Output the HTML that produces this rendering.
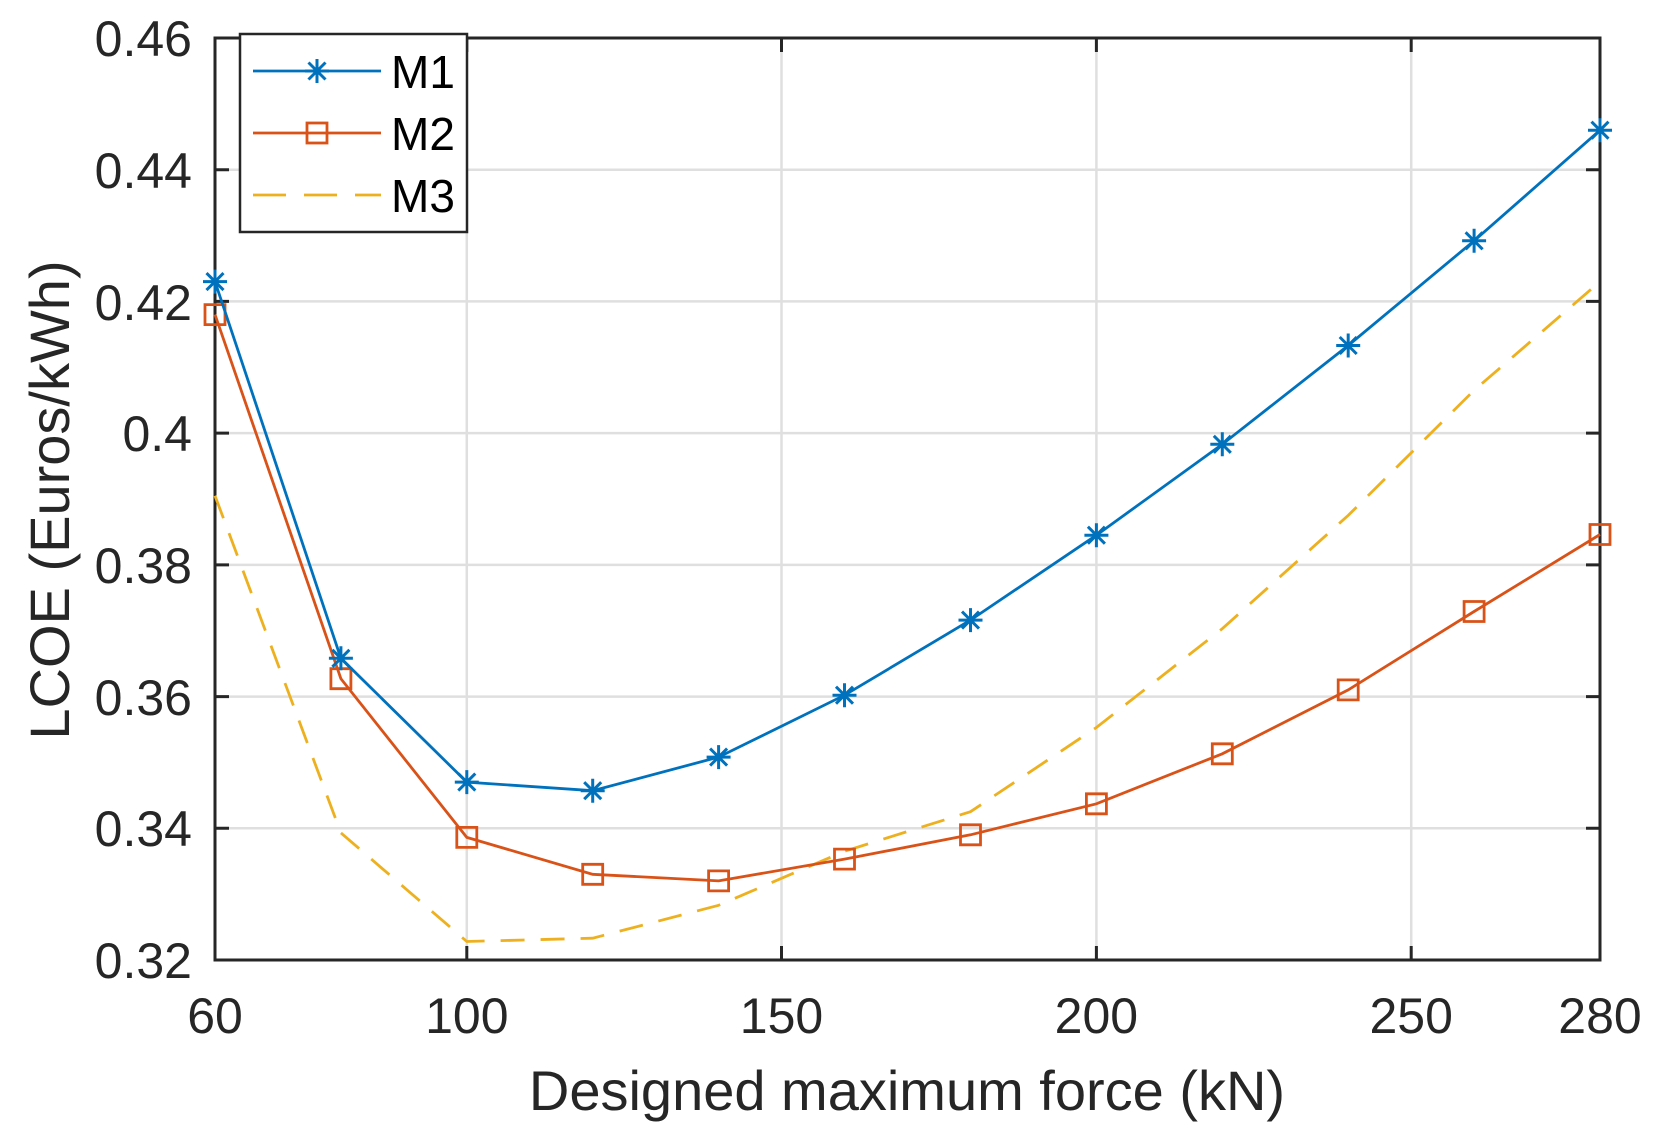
<!DOCTYPE html>
<html><head><meta charset="utf-8"><style>body{margin:0;background:#fff}svg{display:block}</style></head><body>
<svg width="1663" height="1135" viewBox="0 0 1663 1135" xmlns="http://www.w3.org/2000/svg" font-family="Liberation Sans, sans-serif">
<rect width="1663" height="1135" fill="#fff"/>
<g stroke="#dfdfdf" stroke-width="2.5">
<line x1="466.8" y1="38" x2="466.8" y2="960"/><line x1="781.5" y1="38" x2="781.5" y2="960"/><line x1="1096.4" y1="38" x2="1096.4" y2="960"/><line x1="1411.2" y1="38" x2="1411.2" y2="960"/>
<line x1="215" y1="169.7" x2="1600" y2="169.7"/><line x1="215" y1="301.4" x2="1600" y2="301.4"/><line x1="215" y1="433.1" x2="1600" y2="433.1"/><line x1="215" y1="564.9" x2="1600" y2="564.9"/><line x1="215" y1="696.6" x2="1600" y2="696.6"/><line x1="215" y1="828.3" x2="1600" y2="828.3"/>
</g>
<g stroke="#262626" stroke-width="3">
<rect x="215" y="38" width="1385" height="922" fill="none"/>
<path d="M466.8 960v-14M781.5 960v-14M1096.4 960v-14M1411.2 960v-14M466.8 38v14M781.5 38v14M1096.4 38v14M1411.2 38v14M215 169.7h14M215 301.4h14M215 433.1h14M215 564.9h14M215 696.6h14M215 828.3h14M1600 169.7h-14M1600 301.4h-14M1600 433.1h-14M1600 564.9h-14M1600 696.6h-14M1600 828.3h-14"/>
</g>
<g fill="#262626" font-size="50" text-anchor="end">
<text x="192" y="56">0.46</text><text x="192" y="188">0.44</text><text x="192" y="320">0.42</text><text x="192" y="451">0.4</text><text x="192" y="583">0.38</text><text x="192" y="715">0.36</text><text x="192" y="846">0.34</text><text x="192" y="978">0.32</text>
</g>
<g fill="#262626" font-size="50" text-anchor="middle">
<text x="215" y="1033">60</text><text x="466.8" y="1033">100</text><text x="781.5" y="1033">150</text><text x="1096.4" y="1033">200</text><text x="1411.2" y="1033">250</text><text x="1600" y="1033">280</text>
<text x="907" y="1110" font-size="56">Designed maximum force (kN)</text>
<text transform="translate(69,500) rotate(-90)" font-size="56">LCOE (Euros/kWh)</text>
</g>
<polyline fill="none" stroke="#EDB120" stroke-width="2.8" stroke-dasharray="24,16" points="215,495.7 340.9,832.9 466.8,941.5 592.7,938.2 718.6,905.3 844.5,851.3 970.5,811.7 1096.4,727.5 1222.3,628.7 1348.2,515.4 1474.1,390.3 1600,281.6"/>
<g fill="none" stroke="#D95319" stroke-width="2.8">
<polyline points="215,314.6 340.9,678.7 466.8,837.4 592.7,874.3 718.6,880.9 844.5,859.1 970.5,834.8 1096.4,803.8 1222.3,753.8 1348.2,689.9 1474.1,611.5 1600,534.5"/>
<path d="M205,304.6h20v20h-20zM330.9,668.7h20v20h-20zM456.8,827.4h20v20h-20zM582.7,864.3h20v20h-20zM708.6,870.9h20v20h-20zM834.5,849.1h20v20h-20zM960.5,824.8h20v20h-20zM1086.4,793.8h20v20h-20zM1212.3,743.8h20v20h-20zM1338.2,679.9h20v20h-20zM1464.1,601.5h20v20h-20zM1590,524.5h20v20h-20z"/>
</g>
<g fill="none" stroke="#0072BD" stroke-width="2.8">
<polyline points="215,281.6 340.9,658.3 466.8,782.1 592.7,790.7 718.6,757.1 844.5,695.2 970.5,620.1 1096.4,535.2 1222.3,444.3 1348.2,345.5 1474.1,240.8 1600,130.2"/>
</g>
<g stroke="#0072BD" stroke-width="3">
<path id="st" d="M-12,0h24M0,-12v24M-8.5,-8.5l17,17M-8.5,8.5l17,-17" transform="translate(215,281.6)"/>
<use href="#st" transform="translate(125.9,376.7)"/><use href="#st" transform="translate(251.8,500.5)"/><use href="#st" transform="translate(377.7,509.1)"/><use href="#st" transform="translate(503.6,475.5)"/><use href="#st" transform="translate(629.5,413.6)"/><use href="#st" transform="translate(755.5,338.5)"/><use href="#st" transform="translate(881.4,253.6)"/><use href="#st" transform="translate(1007.3,162.7)"/><use href="#st" transform="translate(1133.2,63.9)"/><use href="#st" transform="translate(1259.1,-40.8)"/><use href="#st" transform="translate(1385,-151.4)"/>
</g>
<rect x="240" y="34" width="227" height="198" fill="#fff" stroke="#262626" stroke-width="2.5"/>
<line x1="253" y1="71" x2="381" y2="71" stroke="#0072BD" stroke-width="2.8"/>
<use href="#st" transform="translate(102,-210.6)" stroke="#0072BD" stroke-width="3"/>
<line x1="253" y1="133" x2="381" y2="133" stroke="#D95319" stroke-width="2.8"/>
<rect x="307" y="123" width="20" height="20" fill="none" stroke="#D95319" stroke-width="2.8"/>
<line x1="253" y1="195" x2="381" y2="195" stroke="#EDB120" stroke-width="2.8" stroke-dasharray="33,18"/>
<g font-size="46" fill="#000">
<text x="391" y="88">M1</text><text x="391" y="150">M2</text><text x="391" y="212">M3</text>
</g>
</svg>
</body></html>
